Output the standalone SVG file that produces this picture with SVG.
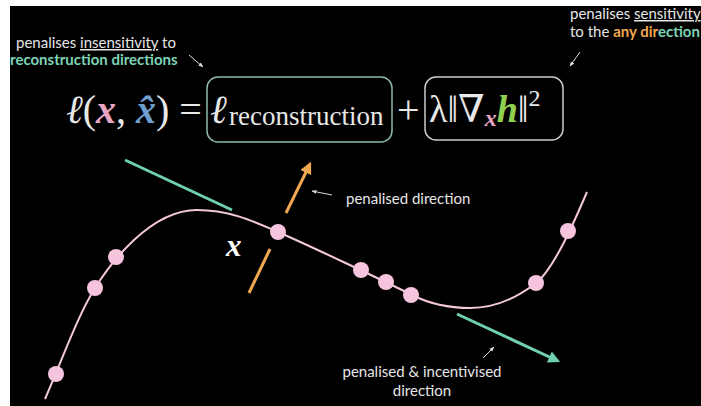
<svg xmlns="http://www.w3.org/2000/svg" width="701" height="406" viewBox="0 0 701 406">
<defs>
<style>
.lbl{font-family:Lato,"Open Sans",sans-serif;font-size:15px;fill:#e6e6e6}
.math{font-family:"Liberation Serif","DejaVu Serif",serif;fill:#e8e8e8}
.ptr{stroke:#dddddd;stroke-width:1;fill:none;marker-end:url(#mw)}
.pt{fill:#f6c4dc}
</style>
<marker id="mw" viewBox="0 0 10 10" refX="9" refY="5" markerWidth="5" markerHeight="5" orient="auto"><path d="M0,1 L10,5 L0,9 z" fill="#dddddd"/></marker>
<marker id="mo" viewBox="0 0 10 10" refX="8" refY="5" markerWidth="4" markerHeight="4" orient="auto"><path d="M0,0 L10,5 L0,10 z" fill="#f0a850"/></marker>
<marker id="mt" viewBox="0 0 10 10" refX="8" refY="5" markerWidth="4" markerHeight="4" orient="auto"><path d="M0,0 L10,5 L0,10 z" fill="#6fd0b0"/></marker>
</defs>
<rect x="0" y="0" width="701" height="406" fill="#ffffff"/>
<rect x="10" y="6" width="691" height="400" fill="#000000"/>

<g id="label-topleft">
<text class="lbl" x="16" y="48">penalises <tspan text-decoration="underline">insensitivity</tspan> to</text>
<text class="lbl" x="10" y="65" font-weight="bold" style="fill:#7dd3b4">reconstruction directions</text>
</g>
<g id="label-topright">
<text class="lbl" x="570" y="19">penalises <tspan text-decoration="underline">sensitivity</tspan></text>
<text class="lbl" x="570" y="37">to the <tspan font-weight="bold" style="fill:#f0a850">any dir</tspan><tspan font-weight="bold" style="fill:#7dd3b4">ection</tspan></text>
</g>

<g id="formula">
<text class="math" x="66" y="123" font-size="40"><tspan font-style="italic">ℓ</tspan>(<tspan font-style="italic" font-weight="bold" style="fill:#e8a6c4">x</tspan>, <tspan font-style="italic" font-weight="bold" style="fill:#6f9fcf">x̂</tspan>) =</text>
</g>
<g id="box-reconstruction">
<rect x="207" y="77" width="185" height="65" rx="11" fill="none" stroke="#8fbaa6" stroke-width="1.5"/>
<text class="math" x="210" y="123" font-size="40" font-style="italic">ℓ</text>
<text class="math" x="229" y="125" font-size="27">reconstruction</text>
</g>
<text class="math" x="397" y="123" font-size="40">+</text>
<g id="box-sensitivity">
<rect x="425" y="77" width="138" height="63" rx="11" fill="none" stroke="#cccccc" stroke-width="1.5"/>
<text class="math" x="429" y="122" font-size="38">λ‖∇<tspan font-size="24" font-style="italic" font-weight="bold" style="fill:#e8a6c4" dy="4">x</tspan><tspan font-style="italic" font-weight="bold" style="fill:#8fd14f" dy="-4">h</tspan>‖<tspan font-size="24" dy="-16">2</tspan></text>
</g>

<g id="connectors">
<path d="M45,399 C62,360 78,315 95,288 C110,264 150,210 197,210 C230,210 255,222 278,232 C310,246 380,279 412,295 C430,304 450,308 470,308 C495,308 518,297 536,283 C554,269 575,220 587,192" fill="none" stroke="#f4c8dc" stroke-width="2"/>
<line x1="125" y1="160" x2="232" y2="210" stroke="#6fd0b0" stroke-width="3"/>
<line x1="457" y1="314" x2="558" y2="361" stroke="#6fd0b0" stroke-width="3" marker-end="url(#mt)"/>
<line x1="286" y1="213" x2="310" y2="164" stroke="#f0a850" stroke-width="3" marker-end="url(#mo)"/>
<line x1="249" y1="293" x2="270" y2="249" stroke="#f0a850" stroke-width="3"/>
<line class="ptr" x1="189" y1="55" x2="203" y2="67"/>
<line class="ptr" x1="580" y1="52" x2="570" y2="66"/>
<line class="ptr" x1="332" y1="195" x2="312" y2="191"/>
<line class="ptr" x1="483" y1="358" x2="494" y2="347"/>
</g>

<g id="points">
<circle class="pt" cx="56" cy="374" r="8"/>
<circle class="pt" cx="95" cy="288" r="8"/>
<circle class="pt" cx="116" cy="257" r="8"/>
<circle class="pt" cx="278" cy="232" r="8"/>
<circle class="pt" cx="361" cy="270" r="8"/>
<circle class="pt" cx="386" cy="282" r="8"/>
<circle class="pt" cx="411" cy="295" r="8"/>
<circle class="pt" cx="536" cy="283" r="8"/>
<circle class="pt" cx="568" cy="231" r="8"/>
</g>

<g id="label-x">
<text class="math" x="226" y="256" font-size="31" font-style="italic" font-weight="bold" style="fill:#ffffff">x</text>
</g>
<g id="label-penalised">
<text class="lbl" x="346" y="204">penalised direction</text>
</g>
<g id="label-incentivised">
<text class="lbl" x="422" y="377" text-anchor="middle">penalised &amp; incentivised</text>
<text class="lbl" x="422" y="396" text-anchor="middle">direction</text>
</g>
</svg>
